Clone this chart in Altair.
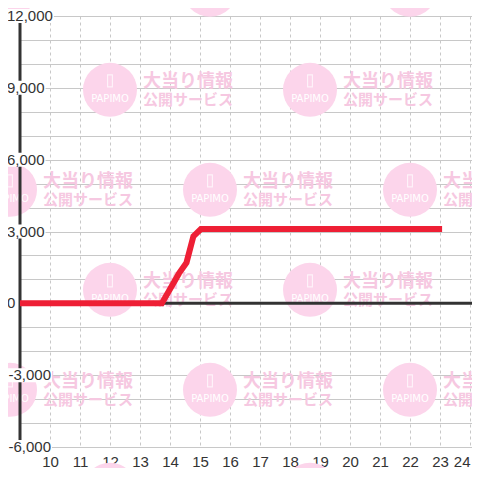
import altair as alt
import pandas as pd

# ---- data ----
time_x = [9, 13.73, 14.3, 14.55, 14.78, 15.03, 23.07]
diff_y = [0, 0, 1250, 1700, 2800, 3100, 3100]

x_ticks = list(range(10, 25))
y_label_vals = [12000, 9000, 6000, 3000, 0, -3000, -6000]
y_grid_vals = list(range(-6000, 12001, 1000))

# watermark centres (data units)
wm_xa = [8.667, 15.333, 22.0]
wm_xb = [12.0, 18.667]
wm_ya = [13092, 4740, -3612]
wm_yb = [8916, 564, -7788]

X_DOMAIN = [9, 24.0667]
Y_DOMAIN = [-6000, 12000]

line_df = pd.DataFrame({"x": time_x, "y": diff_y})
wm_rows = []
for yy in wm_ya:
    for xx in wm_xa:
        wm_rows.append({"x": xx, "y": yy})
for yy in wm_yb:
    for xx in wm_xb:
        wm_rows.append({"x": xx, "y": yy})
wm_df = pd.DataFrame(wm_rows)

xs = alt.Scale(domain=X_DOMAIN, nice=False, zero=False)
ys = alt.Scale(domain=Y_DOMAIN, nice=False, zero=False)

xaxis = alt.Axis(values=x_ticks, grid=True, gridDash=[3, 3], gridColor="#c8c8c8",
                 gridWidth=1, domain=False, ticks=False, labelFontSize=15,
                 labelColor="#333333", labelFont="Liberation Sans", labelPadding=7,
                 title=None, labelFlush=False, labelOverlap=False,
                 labelAlign=alt.expr("datum.value == 24 ? 'right' : 'center'"))
yaxis = alt.Axis(values=y_grid_vals, grid=True, gridColor="#c8c8c8", gridWidth=1,
                 labels=False, domain=False, ticks=False, title=None)


def X(f="x"):
    return alt.X(f + ":Q", scale=xs, axis=xaxis)


def Y(f="y"):
    return alt.Y(f + ":Q", scale=ys, axis=yaxis)


circ = alt.Chart(wm_df).mark_circle(size=2916, color="#fcd5eb", opacity=1, clip=False).encode(x=X(), y=Y())
icon = alt.Chart(wm_df).mark_point(
    shape="M-0.4,-1 L0.4,-1 L0.4,1 L-0.4,1 Z", filled=False, stroke="white",
    strokeWidth=1.2, size=144, yOffset=-9, clip=False).encode(x=X(), y=Y())
pap = alt.Chart(wm_df).mark_text(text="PAPIMO", dy=9, fontSize=10, fontWeight="normal",
                                 font="DejaVu Sans", color="white", clip=False).encode(x=X(), y=Y())
t1 = alt.Chart(wm_df).mark_text(text="大当り情報", align="left", baseline="middle", dx=33, dy=-8,
                                fontSize=18, fontWeight="bold", font="Noto Sans CJK JP",
                                color="#f6c8e1", clip=False).encode(x=X(), y=Y())
t2 = alt.Chart(wm_df).mark_text(text="公開サービス", align="left", baseline="middle", dx=33, dy=10,
                                fontSize=15, fontWeight="bold", font="Noto Sans CJK JP",
                                color="#f6c8e1", clip=False).encode(x=X(), y=Y())

zero_rule = alt.Chart(pd.DataFrame({"y": [0]})).mark_rule(color="#333333", strokeWidth=3).encode(y=Y())
yaxis_rule = alt.Chart(pd.DataFrame({"x": [X_DOMAIN[0]]})).mark_rule(color="#333333", strokeWidth=3).encode(x=X())

layers = [circ, icon, pap, t1, t2, zero_rule, yaxis_rule]

FS = 15
for v in y_label_vals:
    txt = f"{v:,}"
    w = FS * (0.556 * sum(c.isdigit() for c in txt) + 0.278 * txt.count(",") + 0.333 * txt.count("-"))
    left = -11.5 if v < 0 else -13
    df = pd.DataFrame({"x": [X_DOMAIN[0]], "y": [v], "t": [txt]})
    layers.append(alt.Chart(df).mark_rect(color="white", xOffset=left - 1, x2Offset=left + w + 1,
                                          yOffset=-7, y2Offset=7, clip=False)
                  .encode(x=X(), x2="x", y=Y(), y2="y"))
    layers.append(alt.Chart(df).mark_text(align="left", baseline="middle", dx=left, fontSize=FS,
                                          font="Liberation Sans", color="#333333", clip=False)
                  .encode(x=X(), y=Y(), text="t:N"))

red = alt.Chart(line_df).mark_line(color="#ee1f35", strokeWidth=6, strokeCap="butt",
                                   strokeJoin="miter", clip=True).encode(x=X(), y=Y())
layers.append(red)

chart = alt.layer(*layers).properties(
    width=452, height=431,
    autosize=alt.AutoSizeParams(type="none"),
    padding={"left": 12, "top": 8, "right": 0, "bottom": 21},
    background="white",
).configure_view(stroke=None)

chart.save("out.html", embed_options={"renderer": "svg", "actions": False})
